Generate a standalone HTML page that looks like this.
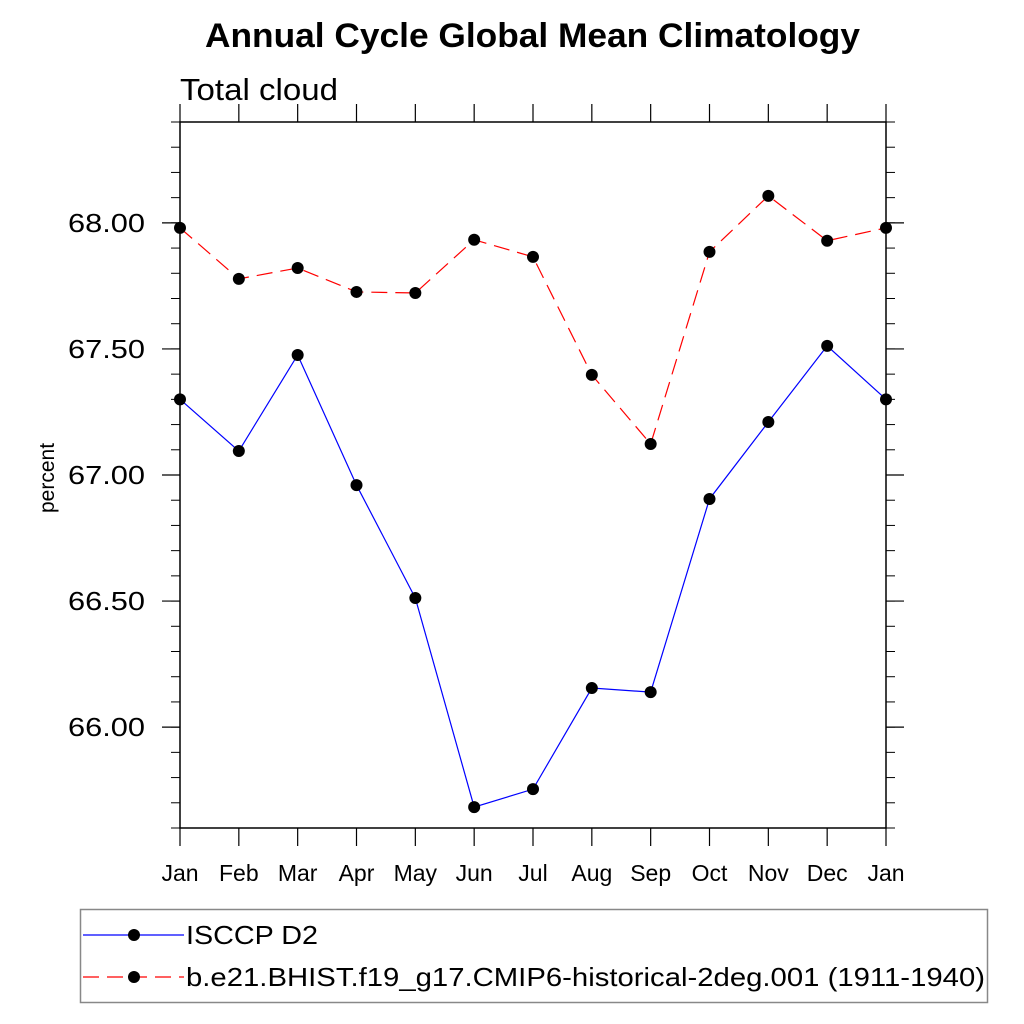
<!DOCTYPE html>
<html><head><meta charset="utf-8"><style>
body{margin:0;background:#fff;}
svg{display:block;font-family:"Liberation Sans",sans-serif;}
</style></head><body>
<svg id="chart" width="1024" height="1024" viewBox="0 0 1024 1024">
<text x="205" y="47" font-size="34" font-weight="bold" textLength="655" lengthAdjust="spacingAndGlyphs">Annual Cycle Global Mean Climatology</text>
<text x="180" y="100" font-size="31" textLength="158" lengthAdjust="spacingAndGlyphs">Total cloud</text>
<text transform="translate(54,478) rotate(-90)" text-anchor="middle" font-size="21">percent</text>
<g id="axes"></g>
<g id="series"></g>
<g>
<rect x="80.5" y="909.5" width="907" height="93" fill="none" stroke="#888" stroke-width="1.5"/>
<g>
<line x1="83" y1="935" x2="184" y2="935" stroke="#0000ff" stroke-width="1.2"/>
<circle cx="134" cy="935" r="6" fill="#000"/>
<text x="186" y="944" font-size="26" textLength="132" lengthAdjust="spacingAndGlyphs">ISCCP D2</text></g>
<g>
<line x1="83" y1="977" x2="184" y2="977" stroke="#ff0000" stroke-width="1.2" stroke-dasharray="16,8"/>
<circle cx="134" cy="977" r="6" fill="#000"/>
<text x="186" y="986" font-size="26" textLength="799" lengthAdjust="spacingAndGlyphs">b.e21.BHIST.f19_g17.CMIP6-historical-2deg.001 (1911-1940)</text></g>
</g>
</svg>
<script>
const months=["Jan","Feb","Mar","Apr","May","Jun","Jul","Aug","Sep","Oct","Nov","Dec","Jan"];
const isccp=[67.30,67.095,67.476,66.96,66.512,65.683,65.754,66.155,66.139,66.905,67.21,67.512,67.30];
const model=[67.98,67.778,67.821,67.726,67.722,67.933,67.865,67.397,67.123,67.885,68.107,67.929,67.98];
const yTicks=[66.0,66.5,67.0,67.5,68.0];
const yTickLabels=["66.00","66.50","67.00","67.50","68.00"];
const NS="http://www.w3.org/2000/svg";
const L=180,R=886,T=122,B=828,YMIN=65.6,YMAX=68.4;
const xs=i=>L+(R-L)*i/(months.length-1);
const ys=v=>B-(v-YMIN)/(YMAX-YMIN)*(B-T);
function mk(tag,attrs,parent){const e=document.createElementNS(NS,tag);for(const k in attrs)e.setAttribute(k,attrs[k]);parent.appendChild(e);return e;}
const ax=document.getElementById('axes');
const frame=mk('rect',{x:L,y:T,width:R-L,height:B-T,fill:'none',stroke:'#000','stroke-width':1.5},ax);


months.forEach((m,i)=>{
  const x=xs(i);
  mk('line',{x1:x,y1:B,x2:x,y2:B+18,stroke:'#000','stroke-width':1.2},ax);
  mk('line',{x1:x,y1:T,x2:x,y2:T-18,stroke:'#000','stroke-width':1.2},ax);
  const t=mk('text',{x:x,y:881,'text-anchor':'middle','font-size':23},ax);
  t.textContent=m;
  
  
});
for(let k=0;k<=28;k++){const v=YMIN+k*0.1;const y=ys(v);
  mk('line',{x1:L,y1:y,x2:L-9,y2:y,stroke:'#000','stroke-width':1},ax);
  mk('line',{x1:R,y1:y,x2:R+9,y2:y,stroke:'#000','stroke-width':1},ax);}
yTicks.forEach((v,i)=>{const y=ys(v);
  mk('line',{x1:L,y1:y,x2:L-18,y2:y,stroke:'#000','stroke-width':1.2},ax);
  mk('line',{x1:R,y1:y,x2:R+18,y2:y,stroke:'#000','stroke-width':1.2},ax);
  const t=mk('text',{x:68,y:y+9,'font-size':26,textLength:77,lengthAdjust:'spacingAndGlyphs'},ax);
  t.textContent=yTickLabels[i];
  
  
});
const sg=document.getElementById('series');
function series(vals,color,dash,name){
  const g=mk('g',{},sg);
  
  
  const pts=vals.map((v,i)=>xs(i)+','+ys(v)).join(' ');
  const pl=mk('polyline',{points:pts,fill:'none',stroke:color,'stroke-width':1.2},g);
  if(dash)pl.setAttribute('stroke-dasharray',dash);
  
  
  vals.forEach((v,i)=>{const c=mk('circle',{cx:xs(i),cy:ys(v),r:6,fill:'#000'},g);
    
    });
}
series(isccp,'#0000ff',null,'isccp-series');
series(model,'#ff0000','16,8','model-series');
</script>
</body></html>
